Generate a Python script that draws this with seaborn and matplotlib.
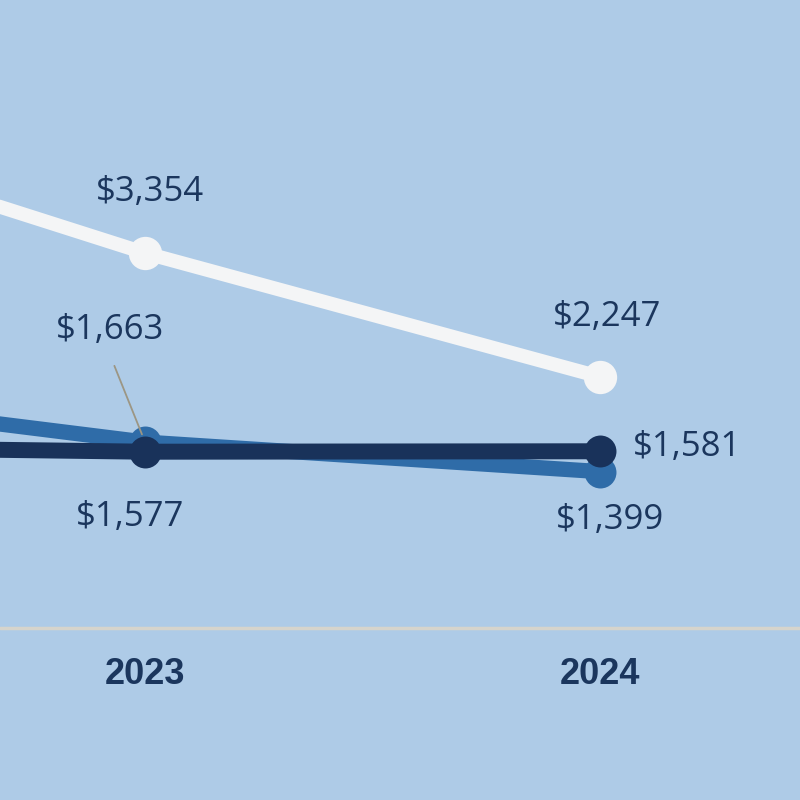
import numpy as np
import pandas as pd
import matplotlib
matplotlib.use("Agg")
import matplotlib.pyplot as plt
import seaborn as sns

# data (2022 lies just off the left edge of the crop)
years = [2022, 2023, 2024]
series_white = [4650, 3354, 2247]
series_mid = [2170, 1663, 1399]
series_navy = [1630, 1577, 1581]

BG = "#aecbe7"
TXT = "#1b365d"

sns.set_theme(style="white")
plt.rcParams["font.family"] = ["Open Sans", "DejaVu Sans"]

fig = plt.figure(figsize=(8, 8), dpi=100, facecolor=BG)
ax = fig.add_axes([0, 0, 1, 1])
ax.set_facecolor(BG)

ax.axhline(0, color="#d6d4cc", lw=2.5, zorder=1)

styles = [
    (series_mid, "#2f6ca8", 11, 23),
    (series_navy, "#19325a", 11.5, 23),
    (series_white, "#f4f5f6", 10, 24),
]
for vals, col, lw, ms in styles:
    df = pd.DataFrame({"year": years, "value": vals})
    sns.lineplot(data=df, x="year", y="value", color=col, lw=lw,
                 marker="o", markersize=ms, markeredgewidth=0,
                 solid_capstyle="round", ax=ax, zorder=3)

fs = 25


def label(x, y, text, dx, dy, ha="center"):
    ax.annotate(text, xy=(x, y), xytext=(dx, dy), textcoords="offset pixels",
                ha=ha, va="center", fontsize=fs, color=TXT, zorder=5)


label(2023, series_white[1], "$3,354", 5, 61)
label(2024, series_white[2], "$2,247", 7, 60)
label(2023, series_navy[1], "$1,577", -15, -65)
label(2024, series_navy[2], "$1,581", 33, 4, ha="left")
label(2024, series_mid[2], "$1,399", 10, -48)

ax.annotate("$1,663", xy=(2023, series_mid[1]), xytext=(-35, 112),
            textcoords="offset pixels", ha="center", va="center",
            fontsize=fs, color=TXT, zorder=5,
            arrowprops=dict(arrowstyle="-", color="#9c9684", lw=1.3,
                            relpos=(0.47, 0), shrinkA=12, shrinkB=6))

for yr in years[1:]:
    ax.text(yr, -420, str(yr), ha="center", va="center", fontsize=26,
            fontweight="bold", color=TXT, family="Liberation Sans")

ax.set_xlim(2022.681, 2024.44)
ax.set_ylim(-1538, 5617)
ax.set_axis_off()

fig.savefig("out.png", dpi=100, facecolor=BG)
